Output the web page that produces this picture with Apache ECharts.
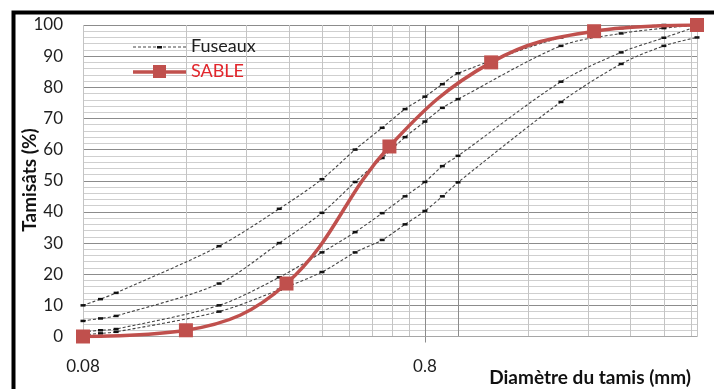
<!DOCTYPE html>
<html>
<head>
<meta charset="utf-8">
<script src="https://cdn.jsdelivr.net/npm/echarts@6/dist/echarts.min.js"></script>
<style>
  html, body { margin: 0; padding: 0; background: #fff; }
  #chart { width: 714px; height: 389px; }
</style>
</head>
<body>
<div id="chart"></div>
<script>
// Sieve openings (mm) where the envelope curves are given
const sieveSizes = [0.08, 0.09, 0.1, 0.2, 0.3, 0.4, 0.5, 0.6, 0.7, 0.8, 0.9, 1, 2, 3, 4, 5];
// Envelope curves (% passing), from the finest-leaning limit to the coarsest
const fuseau1 = [10, 12, 14, 29, 41, 50.5, 60, 67, 73, 77, 81, 84.5, 96, 99, 100, 100];
const fuseau2 = [5, 5.8, 6.6, 17, 30, 39.7, 49.6, 57.3, 64, 69, 73.4, 76.2, 93.3, 97.3, 99, 100];
const fuseau3 = [1.5, 2, 2.4, 10, 19, 27, 33.5, 39.6, 45, 49.6, 54.7, 58, 81.8, 91.2, 95.9, 99.5];
const fuseau4 = [0.5, 1, 1.5, 8, 15, 20.7, 27, 31, 36, 40.3, 45, 49.5, 75.3, 87.5, 93.3, 96];

// Sand sample
const sableSizes = [0.08, 0.16, 0.315, 0.63, 1.25, 2.5, 5];
const sableValues = [0, 2, 17, 61, 88, 98, 100];

// Axis labels and vertical grid positions
const xLabelValues = [0.08, 0.8];
const xGridValues = [0.08, 0.16, 0.24, 0.32, 0.4, 0.48, 0.56, 0.64, 0.72, 0.8, 1, 1.6, 2.4, 3.2, 4, 4.8, 5];
const yMin = 0, yMax = 100, yStep = 10;

const FONT = 'Lato';
const pairs = (xs, ys) => xs.map((x, i) => [x, ys[i]]);

const xGridColors = xGridValues.map(v => (v === 0.8 || v === 1) ? '#8c8c8c' : '#c4c4c4');

const fuseauSeries = [fuseau1, fuseau2, fuseau3, fuseau4].map(vals => ({
  name: 'Fuseaux',
  type: 'line',
  xAxisIndex: 0,
  data: pairs(sieveSizes, vals),
  smooth: 0.3,
  symbol: 'rect',
  symbolSize: [5, 2.5],
  showSymbol: true,
  itemStyle: { color: '#111' },
  lineStyle: { color: '#444', width: 1.1, type: [3, 2] },
  emphasis: { disabled: true },
  z: 3
}));

const chart = echarts.init(document.getElementById('chart'), null, { renderer: 'canvas' });
chart.setOption({
  animation: false,
  backgroundColor: '#fff',
  grid: { left: 83, right: 17, top: 25, bottom: 52.5, containLabel: false },
  xAxis: [
    {
      type: 'log', logBase: 10, min: 0.08, max: 5,
      axisLine: { show: true, lineStyle: { color: '#a6a6a6', width: 1 } },
      axisTick: { show: false, customValues: xGridValues },
      axisLabel: { show: false },
      splitLine: { show: true, lineStyle: { color: xGridColors, width: 1 } }
    },
    {
      type: 'log', logBase: 10, min: 0.08, max: 5, position: 'bottom',
      axisLine: { show: false },
      axisTick: { show: true, customValues: xLabelValues, length: 6, lineStyle: { color: '#8c8c8c' } },
      axisLabel: {
        show: true, customValues: xLabelValues, margin: 22,
        fontFamily: FONT, fontSize: 17, color: '#1e1e1e',
        formatter: v => String(+v.toFixed(2))
      },
      splitLine: { show: false }
    }
  ],
  yAxis: {
    type: 'value', min: yMin, max: yMax, interval: yStep,
    axisLine: { show: false },
    axisTick: { show: false },
    axisLabel: { margin: 20, fontFamily: FONT, fontSize: 17, color: '#1e1e1e' },
    splitLine: { show: true, lineStyle: { color: '#8c8c8c', width: 1 } },
    minorTick: { show: false, splitNumber: 5 },
    minorSplitLine: { show: true, lineStyle: { color: '#cfcfcf', width: 1 } }
  },
  series: fuseauSeries.concat([{
    name: 'SABLE',
    type: 'line',
    xAxisIndex: 0,
    data: pairs(sableSizes, sableValues),
    smooth: 0.4,
    symbol: 'rect',
    symbolSize: 14,
    itemStyle: { color: '#c0504d' },
    lineStyle: { color: '#c0504d', width: 3.5 },
    emphasis: { disabled: true },
    z: 5
  }]),
  graphic: [
    // chart frame
    { type: 'rect', left: 11, top: 10, shape: { x: 0, y: 0, width: 760, height: 420 },
      style: { fill: 'none', stroke: '#000', lineWidth: 4 }, z: 100 },
    // legend: envelope curves
    { type: 'line', shape: { x1: 133, y1: 47, x2: 186, y2: 47 },
      style: { stroke: '#444', lineWidth: 1.1, lineDash: [3, 2] }, z: 10 },
    { type: 'rect', shape: { x: 157, y: 46, width: 5, height: 2.5 }, style: { fill: '#111' }, z: 11 },
    { type: 'text', x: 191, y: 46, style: { text: 'Fuseaux', font: '18px ' + FONT, fill: '#1e1e1e', verticalAlign: 'middle' }, z: 10 },
    // legend: sand
    { type: 'line', shape: { x1: 133, y1: 72, x2: 186, y2: 72 },
      style: { stroke: '#c0504d', lineWidth: 3.5 }, z: 10 },
    { type: 'rect', shape: { x: 153, y: 65, width: 13, height: 13 }, style: { fill: '#c0504d' }, z: 11 },
    { type: 'text', x: 191, y: 71, style: { text: 'SABLE', font: '18px ' + FONT, fill: '#e2262c', verticalAlign: 'middle' }, z: 10 },
    // axis titles
    { type: 'text', x: 30, y: 180, rotation: Math.PI / 2,
      style: { text: 'Tamisâts (%)', font: 'bold 19px ' + FONT, fill: '#111', align: 'center', verticalAlign: 'middle' }, z: 10 },
    { type: 'text', x: 691, y: 378,
      style: { text: 'Diamètre du tamis (mm)', font: 'bold 19px ' + FONT, fill: '#111', align: 'right', verticalAlign: 'middle' }, z: 10 }
  ]
});
</script>
</body>
</html>
